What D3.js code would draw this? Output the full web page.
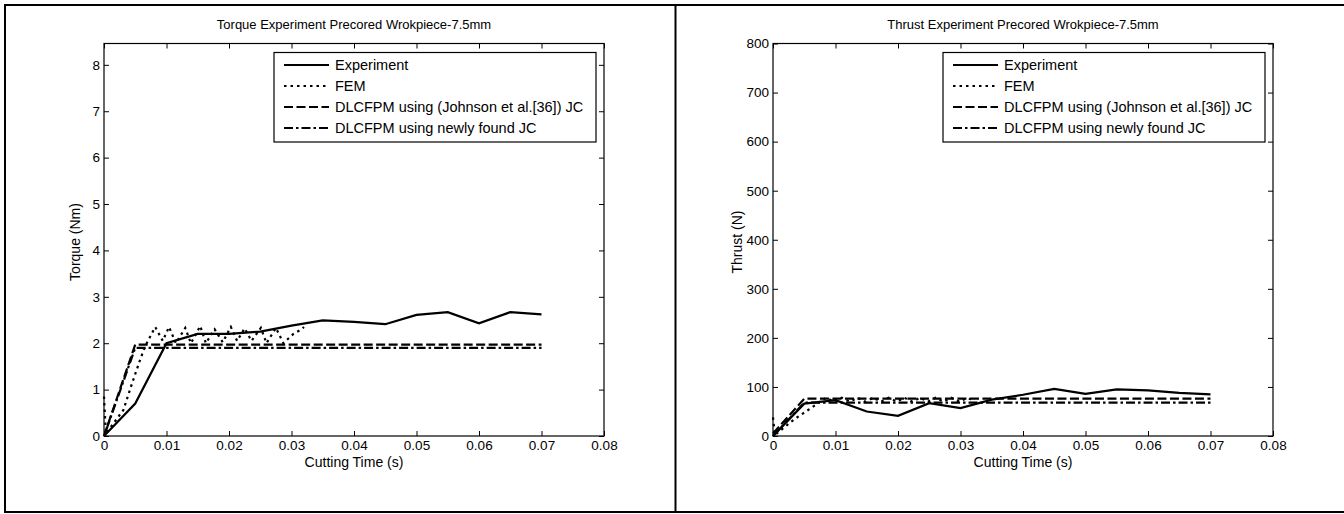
<!DOCTYPE html>
<html>
<head>
<meta charset="utf-8">
<script src="https://cdn.jsdelivr.net/npm/d3@7"></script>
<style>
  body { margin: 0; background: #fff; }
  svg { display: block; font-family: "Liberation Sans", Arial, Helvetica, sans-serif; }
</style>
</head>
<body>
<svg id="chart" width="1344" height="514"></svg>
<script>
// values, time in seconds
const seriesNames = ["Experiment", "FEM", "DLCFPM using (Johnson et al.[36]) JC", "DLCFPM using newly found JC"];
const xTicks = [0, 0.01, 0.02, 0.03, 0.04, 0.05, 0.06, 0.07, 0.08];

// torque (Nm)
const torqueExp = [[0, 0], [0.005, 0.7], [0.01, 2.0], [0.015, 2.2], [0.02, 2.2], [0.025, 2.25], [0.03, 2.38],
  [0.035, 2.49], [0.04, 2.46], [0.045, 2.41], [0.05, 2.61], [0.055, 2.67], [0.06, 2.43], [0.065, 2.67], [0.07, 2.62]];
const torqueFem = [[0, 0.85], [0.0003, 0.05], [0.0031, 0.56], [0.0045, 1.14], [0.0058, 1.65], [0.0066, 1.94],
  [0.0082, 2.35], [0.0094, 2.05], [0.0104, 2.35], [0.0115, 2.0], [0.013, 2.33], [0.0139, 2.0], [0.0154, 2.37],
  [0.0163, 2.0], [0.0177, 2.3], [0.019, 2.02], [0.0203, 2.35], [0.0213, 2.05], [0.0225, 2.32], [0.0236, 2.05],
  [0.0251, 2.33], [0.026, 2.0], [0.0275, 2.33], [0.0287, 2.0], [0.0303, 2.2], [0.0316, 2.3], [0.032, 2.35]];
const torqueJohnson = [[0, 0.0], [0.005, 1.97], [0.07, 1.97]];
const torqueNew = [[0.0004, 0.15], [0.005, 1.9], [0.07, 1.9]];
const torqueTicks = [0, 1, 2, 3, 4, 5, 6, 7, 8];

// thrust (N)
const thrustExp = [[0, 0], [0.005, 66], [0.01, 73], [0.015, 50], [0.02, 41], [0.025, 67], [0.03, 57],
  [0.035, 74], [0.04, 84], [0.045, 96], [0.05, 86], [0.055, 95], [0.06, 93], [0.065, 88], [0.07, 85]];
const thrustFem = [[0, 38], [0.0003, 2], [0.0035, 35], [0.0061, 57], [0.0075, 70], [0.0085, 78], [0.0098, 70],
  [0.011, 78], [0.0123, 70], [0.0135, 78], [0.0148, 70], [0.016, 78], [0.0173, 70], [0.0185, 78], [0.0198, 70],
  [0.021, 78], [0.0223, 70], [0.0235, 78], [0.0248, 70], [0.026, 78], [0.0273, 70], [0.0285, 78], [0.0298, 70],
  [0.031, 77], [0.032, 74]];
const thrustJohnson = [[0, 5], [0.005, 76], [0.07, 76]];
const thrustNew = [[0, 0], [0.005, 68], [0.07, 68]];
const thrustTicks = [0, 100, 200, 300, 400, 500, 600, 700, 800];

const dashes = [null, "2.5,4", "9,3.5", "9,3,2.5,3"];

const svg = d3.select("#chart");

// outer figure frame with the divider between panels
svg.append("rect").attr("x", 5).attr("y", 5).attr("width", 1345).attr("height", 507)
  .attr("fill", "none").attr("stroke", "#000").attr("stroke-width", 2);
svg.append("line").attr("x1", 675.5).attr("x2", 675.5).attr("y1", 5).attr("y2", 512)
  .attr("stroke", "#000").attr("stroke-width", 2);

function panel(opt) {
  const x = d3.scaleLinear().domain([0, 0.08]).range([opt.left, opt.left + 500]);
  const y = d3.scaleLinear().domain([0, opt.yMax]).range([436, 43.5]);
  const g = svg.append("g");

  const axisStyle = sel => {
    sel.attr("font-family", null).attr("font-size", 13.5);
    sel.select(".domain").remove();
    sel.selectAll("line").attr("stroke", "#000");
    sel.selectAll("text").attr("fill", "#000");
  };

  g.append("g").attr("transform", "translate(0,436)")
    .call(d3.axisBottom(x).tickValues(xTicks).tickFormat(d => d === 0 ? "0" : d3.format(".2f")(d)).tickSizeInner(-5).tickPadding(4))
    .call(axisStyle);
  g.append("g").attr("transform", "translate(0,43.5)")
    .call(d3.axisTop(x).tickValues(xTicks).tickFormat("").tickSizeInner(-5))
    .call(axisStyle);
  g.append("g").attr("transform", `translate(${opt.left},0)`)
    .call(d3.axisLeft(y).tickValues(opt.ticks).tickSizeInner(-5).tickPadding(4))
    .call(axisStyle);
  g.append("g").attr("transform", `translate(${opt.left + 500},0)`)
    .call(d3.axisRight(y).tickValues(opt.ticks).tickFormat("").tickSizeInner(-5))
    .call(axisStyle);

  g.append("rect").attr("x", opt.left).attr("y", 43.5).attr("width", 500).attr("height", 392.5)
    .attr("fill", "none").attr("stroke", "#000").attr("stroke-width", 1.2);

  const line = d3.line().x(d => x(d[0])).y(d => y(d[1]));
  opt.series.forEach((s, i) => {
    g.append("path").datum(s).attr("d", line)
      .attr("fill", "none").attr("stroke", "#000").attr("stroke-width", 2.2)
      .attr("stroke-dasharray", dashes[i]);
  });

  g.append("text").attr("x", opt.left + 250).attr("y", 29).attr("text-anchor", "middle")
    .attr("font-size", 13).text(opt.title);
  g.append("text").attr("x", opt.left + 250).attr("y", 467).attr("text-anchor", "middle")
    .attr("font-size", 14).text("Cutting Time (s)");
  g.append("text").attr("transform", `translate(${opt.left - opt.labelGap},242) rotate(-90)`)
    .attr("text-anchor", "middle").attr("font-size", 14).text(opt.yLabel);

  // legend
  const lx = opt.left + 170, ly = 52.5;
  g.append("rect").attr("x", lx).attr("y", ly).attr("width", 322).attr("height", 89.5)
    .attr("fill", "#fff").attr("stroke", "#000").attr("stroke-width", 1.2);
  seriesNames.forEach((name, i) => {
    const yy = ly + 12.5 + i * 21;
    g.append("line").attr("x1", lx + 10).attr("x2", lx + 55).attr("y1", yy).attr("y2", yy)
      .attr("stroke", "#000").attr("stroke-width", 2.2).attr("stroke-dasharray", dashes[i]);
    g.append("text").attr("x", lx + 61).attr("y", yy + 5).attr("font-size", 14.5).text(name);
  });
}

panel({
  left: 104, yMax: 8.46, ticks: torqueTicks, labelGap: 24,
  title: "Torque Experiment Precored Wrokpiece-7.5mm", yLabel: "Torque (Nm)",
  series: [torqueExp, torqueFem, torqueJohnson, torqueNew]
});
panel({
  left: 773, yMax: 800, ticks: thrustTicks, labelGap: 31,
  title: "Thrust Experiment Precored Wrokpiece-7.5mm", yLabel: "Thrust (N)",
  series: [thrustExp, thrustFem, thrustJohnson, thrustNew]
});
</script>
</body>
</html>
